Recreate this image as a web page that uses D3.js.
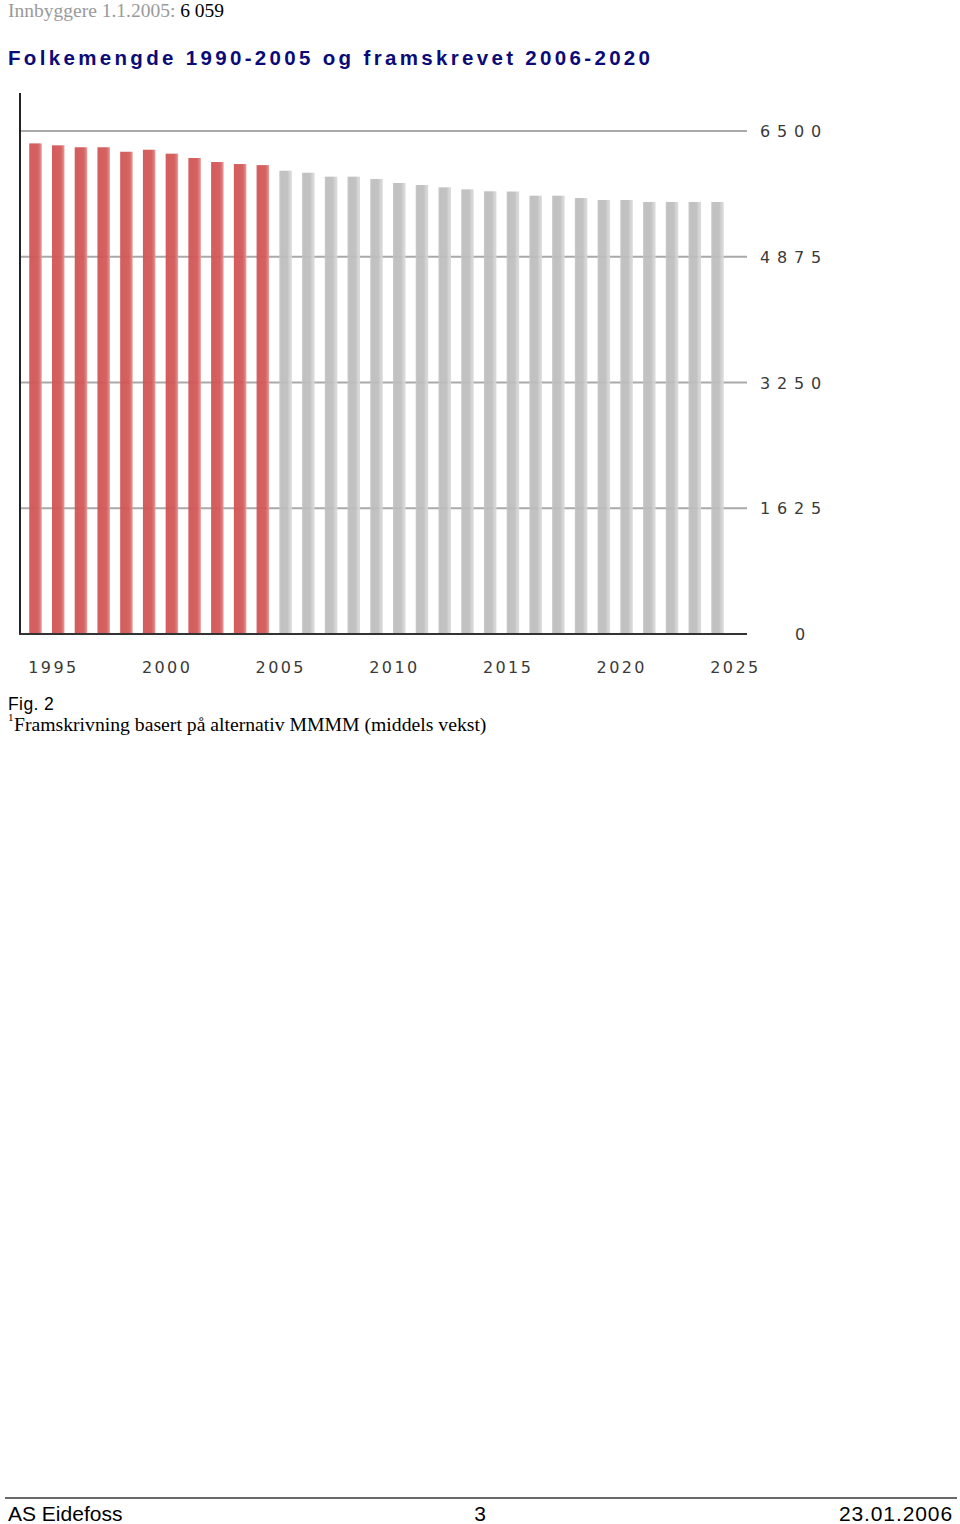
<!DOCTYPE html>
<html>
<head>
<meta charset="utf-8">
<script src="https://cdn.jsdelivr.net/npm/d3@7"></script>
<style>
  html, body { margin: 0; padding: 0; background: #fff; }
  svg { display: block; }
</style>
</head>
<body>
<script>
// ---- Data ----
const histYears = [1995, 1996, 1997, 1998, 1999, 2000, 2001, 2002, 2003, 2004, 2005];
const histValues = [6340, 6315, 6290, 6290, 6232, 6258, 6207, 6151, 6099, 6073, 6059];
const projYears = [2006, 2007, 2008, 2009, 2010, 2011, 2012, 2013, 2014, 2015,
                   2016, 2017, 2018, 2019, 2020, 2021, 2022, 2023, 2024, 2025];
const projValues = [5987, 5961, 5910, 5910, 5880, 5828, 5802, 5772, 5746, 5721,
                    5718, 5664, 5664, 5634, 5608, 5608, 5583, 5583, 5583, 5583];
const yTicks = [0, 1625, 3250, 4875, 6500];
const xTickYears = [1995, 2000, 2005, 2010, 2015, 2020, 2025];
const headerLabel = "Innbyggere 1.1.2005: ";
const headerValue = "6 059";
const chartTitle = "Folkemengde 1990-2005 og framskrevet 2006-2020";
const figLabel = "Fig. 2";
const footnote = "Framskrivning basert på alternativ MMMM (middels vekst)";
const footerLeft = "AS Eidefoss", footerMid = "3", footerRight = "23.01.2006";

const W = 960, H = 1524;
const svg = d3.select("body").append("svg").attr("width", W).attr("height", H);

// gradients
const defs = svg.append("defs");
function grad(id, stops) {
  const g = defs.append("linearGradient").attr("id", id)
    .attr("x1", "0%").attr("x2", "100%").attr("y1", "0%").attr("y2", "0%");
  stops.forEach(s => g.append("stop").attr("offset", s[0]).attr("stop-color", s[1]));
}
grad("gRed", [["0%", "#d25454"], ["70%", "#d35959"], ["85%", "#dc7272"], ["100%", "#e79a9a"]]);
grad("gGray", [["0%", "#c6c6c6"], ["15%", "#bcbcbc"], ["65%", "#bebebe"], ["80%", "#cfcfcf"], ["100%", "#d9d9d9"]]);

// ---- Header ----
const hdr = svg.append("text").attr("x", 8).attr("y", 17)
  .attr("font-family", "Liberation Serif, Times New Roman, serif").attr("font-size", 19.5);
hdr.append("tspan").attr("fill", "#9a9a9a").text(headerLabel);
hdr.append("tspan").attr("fill", "#000").text(headerValue);

svg.append("text").attr("x", 8).attr("y", 65)
  .attr("font-family", "Liberation Sans, Arial, sans-serif").attr("font-weight", "bold")
  .attr("font-size", 20.5).attr("fill", "#0b0b78")
  .attr("textLength", 642).attr("lengthAdjust", "spacing")
  .text(chartTitle);

// ---- Scales ----
const x = d3.scaleLinear().domain([1995, 2025]).range([35.5, 717.5]);
const y = d3.scaleLinear().domain([0, 6500]).range([634, 131]);
const barW = 12.5;
const plotLeft = 20, plotRight = 747;

// gridlines
const grid = svg.append("g");
grid.selectAll("line").data(yTicks.filter(d => d > 0)).join("line")
  .attr("x1", plotLeft).attr("x2", plotRight)
  .attr("y1", d => y(d)).attr("y2", d => y(d))
  .attr("stroke", "#a9a9a9").attr("stroke-width", 2);

// bars
const histData = histYears.map((yr, i) => ({ yr, v: histValues[i] }));
const projData = projYears.map((yr, i) => ({ yr, v: projValues[i] }));
svg.append("g").selectAll("rect").data(histData).join("rect")
  .attr("x", d => x(d.yr) - barW / 2).attr("width", barW)
  .attr("y", d => y(d.v)).attr("height", d => y(0) - y(d.v))
  .attr("fill", "url(#gRed)").attr("opacity", 0.95);
svg.append("g").selectAll("rect").data(projData).join("rect")
  .attr("x", d => x(d.yr) - barW / 2).attr("width", barW)
  .attr("y", d => y(d.v)).attr("height", d => y(0) - y(d.v))
  .attr("fill", "url(#gGray)").attr("opacity", 0.93);

// axes lines
svg.append("line").attr("x1", plotLeft).attr("x2", plotLeft).attr("y1", 93).attr("y2", 634)
  .attr("stroke", "#222").attr("stroke-width", 2);
svg.append("line").attr("x1", 19).attr("x2", plotRight).attr("y1", 634).attr("y2", 634)
  .attr("stroke", "#333").attr("stroke-width", 2);

// y tick labels (right side)
const tickFont = "DejaVu Sans, sans-serif";
svg.append("g").selectAll("text").data(yTicks).join("text")
  .attr("x", d => d === 0 ? 795 : 760)
  .attr("y", d => y(d) + 6)
  .attr("font-family", tickFont).attr("font-size", 16).attr("fill", "#3a3a3a")
  .attr("letter-spacing", 6.8)
  .text(d => String(d));

// x tick labels
svg.append("g").selectAll("text").data(xTickYears).join("text")
  .attr("x", d => x(d) - barW / 2 - 1)
  .attr("y", 673)
  .attr("font-family", tickFont).attr("font-size", 16).attr("fill", "#3a3a3a")
  .attr("letter-spacing", 2.4)
  .text(d => String(d));

// ---- Captions ----
svg.append("text").attr("x", 8).attr("y", 710)
  .attr("font-family", "Liberation Sans, Arial, sans-serif").attr("font-size", 17.5)
  .attr("fill", "#000").attr("letter-spacing", 0.4).text(figLabel);
svg.append("text").attr("x", 8).attr("y", 721)
  .attr("font-family", "Liberation Serif, Times New Roman, serif").attr("font-size", 11)
  .attr("fill", "#000").text("1");
svg.append("text").attr("x", 14).attr("y", 731)
  .attr("font-family", "Liberation Serif, Times New Roman, serif").attr("font-size", 19.7)
  .attr("fill", "#000").text(footnote);

// ---- Footer ----
svg.append("line").attr("x1", 5).attr("x2", 957).attr("y1", 1498).attr("y2", 1498)
  .attr("stroke", "#6a6a6a").attr("stroke-width", 2);
const ff = "Liberation Sans, Arial, sans-serif";
svg.append("text").attr("x", 8).attr("y", 1521).attr("font-family", ff).attr("font-size", 21)
  .attr("fill", "#000").text(footerLeft);
svg.append("text").attr("x", 480).attr("y", 1521).attr("text-anchor", "middle")
  .attr("font-family", ff).attr("font-size", 21).attr("fill", "#000").text(footerMid);
svg.append("text").attr("x", 953).attr("y", 1521).attr("text-anchor", "end")
  .attr("font-family", ff).attr("font-size", 21).attr("fill", "#000")
  .attr("letter-spacing", 0.9).text(footerRight);
</script>
</body>
</html>
